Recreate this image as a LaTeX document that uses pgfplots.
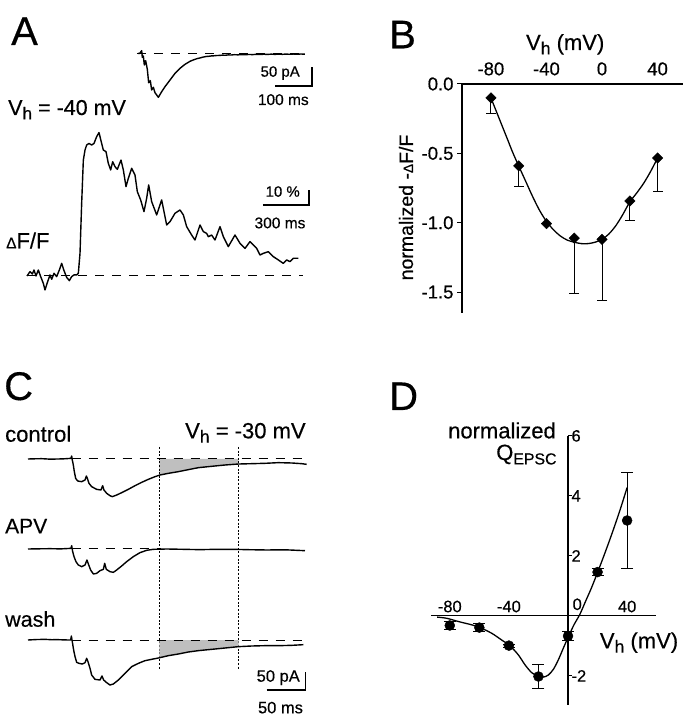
\documentclass[border=0pt]{standalone}
\usepackage{fontspec}
\setmainfont[FakeBold=0.4]{Liberation Sans}
\usepackage{graphicx}
\usepackage{pgfplots}
\pgfplotsset{compat=1.18}
\newcommand{\fs}[1]{\fontsize{#1}{#1}\selectfont}
\newcommand{\sub}[1]{\raisebox{-0.2em}{\scalebox{0.8}{#1}}}
\newcommand{\sD}{\scalebox{0.7}{Δ}}
\pgfplotsset{
  trace/.style={scale only axis, hide axis, clip=false, anchor=south west},
  tr/.style={black, line width=1.4pt, line join=round},
  base/.style={black, line width=1pt, dash pattern=on 9pt off 8pt},
  dotl/.style={black, line width=0.9pt, dash pattern=on 2pt off 1.6pt},
  sbar/.style={black, line width=1.4pt},
}
\begin{document}
\begin{tikzpicture}
\useasboundingbox (0,0) rectangle (686pt,720pt);
\fill[white] (0,0) rectangle (686pt,720pt);

% ---------------- Panel A: EPSC ----------------
\begin{axis}[trace, at={(138pt,608.6pt)}, width=177.6pt, height=65.62pt,
  xmin=0, xmax=480, ymin=-150, ymax=20]
\addplot[base] coordinates {(-3,0) (451,0)};
\addplot[tr] coordinates {
(0,0) (5,0.5) (9.9,7.3) (11.7,-9.9) (14.4,-6.5) (17.1,-29.8) (20.7,-18.6)
(25.2,-41.0) (28.8,-75.6) (33.3,-70.4) (36.9,-94.6) (41.4,-87.6) (45.9,-101.5)
(50.5,-107.5) (55.0,-113.6) (64.0,-98.9) (73.0,-85.9) (86.5,-68.7) (100.0,-51.4)
(113.5,-38.4) (127.0,-28.1) (140.5,-20.3) (150,-16.5) (160,-13.2) (165,-12.1) (170,-10.9)
(175,-9.5) (180,-8.6) (186,-7.6) (192,-7.2) (198,-6.3) (205,-6.0) (212,-5.3)
(220,-5.0) (228,-4.3) (236,-4.6) (244,-3.7) (252,-3.9) (260,-3.1) (270,-3.5)
(280,-2.8) (290,-3.2) (300,-2.5) (310,-2.9) (320,-2.1) (330,-2.6) (340,-1.9)
(350,-2.4) (360,-1.7) (370,-2.3) (380,-1.6) (390,-2.2) (400,-1.5) (410,-2.1)
(420,-1.4) (430,-2.0) (440,-1.3) (451,-1.8)};
\addplot[sbar] coordinates {(370.3,-84.2) (470.3,-84.2) (470.3,-34.2)};
\end{axis}

% ---------------- Panel A: dF/F ----------------
\begin{axis}[trace, at={(27pt,414pt)}, width=291.33pt, height=195pt,
  xmin=0, xmax=1900, ymin=-20, ymax=110]
\addplot[base] coordinates {(0,0) (1802,0)};
\addplot[tr] coordinates {
(0,0) (19.6,2.9) (34.8,1.3) (45.7,4.0) (58.7,0) (73.9,4.0) (89.1,-0.4)
(106.5,-4.9) (117.4,-9.3) (132.6,-4.4) (150,0.7) (160.9,-2.2) (176.1,1.8)
(193.5,-0.4) (210.9,4.0) (226.1,8.4) (241.3,3.6) (258.7,-0.9) (276.1,-3.1)
(291.3,-0.4) (306.5,0.7) (323.9,0.7) (334.8,1.8) (345.7,15.1) (356.5,48.4)
(367.4,77.3) (378.3,84.0) (389.1,87.3) (404.3,88.4) (421.7,87.3) (437.0,88.4)
(454.3,92.9) (469.6,95.6) (487.0,88.4) (497.8,84.0) (515.2,82.9) (530.4,75.1)
(545.7,70.7) (558.7,76.2) (573.9,72.9) (589.1,71.1) (613.0,77.3) (628.3,70.7)
(645.7,59.6) (660.9,65.1) (682.6,71.8) (704.3,67.3) (719.6,56.2) (741.3,50.7)
(763.0,42.9) (780.4,51.8) (793.5,60.7) (813.0,49.6) (845.7,40.7) (878.3,50.7)
(910.9,34.0) (932.6,36.2) (965.2,41.8) (997.8,44.0) (1019.6,40.7) (1041.3,32.9)
(1073.9,27.3) (1095.7,24.0) (1128.3,34.0) (1150.0,29.6) (1171.7,28.4) (1182.6,26.2)
(1204.3,27.3) (1226.1,24.0) (1258.7,32.9) (1280.4,26.2) (1313.0,19.6) (1356.5,27.3)
(1389.1,21.8) (1421.7,18.4) (1454.3,22.9) (1497.8,18.4) (1519.6,14.0) (1541.3,15.1)
(1573.9,16.2) (1606.5,12.9) (1639.1,10.7) (1671.7,8.4) (1693.5,10.7) (1715.2,9.6)
(1737.0,11.8) (1769.6,11.8)};
\addplot[sbar] coordinates {(1539,47.3) (1839,47.3) (1839,57.3)};
\end{axis}

% ---------------- Panel B ----------------
\begin{axis}[at={(462pt,407pt)}, anchor=south west, scale only axis,
  width=221pt, height=229pt,
  xmin=-100.8, xmax=58.3, ymin=-1.65, ymax=0,
  axis x line*=top, axis y line*=left,
  xtick={-80,-40,0,40}, xticklabels={-80,-40,0,40},
  ytick={0,-0.5,-1,-1.5}, yticklabels={0.0,-0.5,-1.0,-1.5},
  tick align=outside, major tick length=5pt,
  xtick style={draw=none},
  tick style={black, line width=1pt},
  axis line style={black, line width=1.1pt},
  tick label style={font=\fs{18.5}},
  clip=false]
\addplot[black, line width=1.3pt, smooth] coordinates {
(-80,-0.10) (-76,-0.20) (-72,-0.30) (-68,-0.40) (-64,-0.50) (-60,-0.59)
(-55,-0.70) (-50,-0.81) (-45,-0.91) (-40,-0.99) (-35,-1.05) (-30,-1.095)
(-25,-1.125) (-20,-1.14) (-15,-1.15) (-10,-1.15) (-5,-1.14) (0,-1.12)
(5,-1.08) (10,-1.02) (15,-0.94) (20,-0.85) (25,-0.785) (30,-0.715)
(35,-0.63) (40,-0.533)};
\addplot[black, only marks, mark=square*, mark size=3.7pt, mark options={rotate=45},
  error bars/.cd, y dir=minus, y explicit,
  error bar style={line width=1pt},
  error mark options={rotate=90, mark size=5pt, line width=1pt}]
coordinates {
(-80,-0.10) +- (0,0.111)
(-60,-0.59) +- (0,0.145)
(-40,-1.006) +- (0,0)
(-20,-1.11) +- (0,0.40)
(0,-1.12) +- (0,0.44)
(20,-0.843) +- (0,0.137)
(40,-0.533) +- (0,0.243)};
\end{axis}

% ---------------- Panel C ----------------
\begin{axis}[trace, at={(28pt,213.42pt)}, width=288.6pt, height=62.22pt,
  xmin=0, xmax=370, ymin=-130, ymax=40]
\addplot[fill=black!25, draw=none] coordinates {
(168.4,0) (168.4,-44.3) (169.2,-43.7) (179.9,-39.2) (192.7,-34.6) (205.6,-29.1)
(218.4,-23.7) (235.5,-20.0) (252.6,-16.4) (270.1,-13.7) (270.1,0)} \closedcycle;
\addplot[base] coordinates {(56,0) (357,0)};
\addplot[tr] coordinates {
(0,0) (8,0.5) (17.5,0.9) (28,-0.4) (38.9,0) (47,0.6) (55.1,1.8) (56.0,8.2) (56.8,-2.7)
(58.1,-16.4) (59.4,-34.6) (61.1,-52.8) (63.7,-60.1) (68.8,-61.9) (73.1,-57.4)
(74.8,-46.4) (76.1,-52.8) (78.2,-66.5) (81.6,-75.6) (88.0,-82.9) (93.6,-84.7)
(95.7,-72.9) (97.4,-84.7) (100.9,-93.8) (105.1,-100.2) (108.1,-102.9) (113.7,-98.4)
(120.1,-92.0) (128.6,-82.9) (137.2,-72.9) (145.7,-63.8) (154.3,-55.6) (162.8,-48.3)
(169.2,-43.7) (179.9,-39.2) (192.7,-34.6) (205.6,-29.1) (218.4,-23.7) (235.5,-20.0)
(252.6,-16.4) (269.7,-13.7) (286.8,-12.8) (303.8,-11.8) (320.9,-10.0) (338.0,-10.9)
(350.9,-12.8) (357.3,-14.6)};
\addplot[dotl] coordinates {(168.4,32.8) (168.4,-576.5)};
\addplot[dotl] coordinates {(270.1,32.8) (270.1,-576.5)};
\end{axis}

\begin{axis}[trace, at={(28pt,123.42pt)}, width=288.6pt, height=62.22pt,
  xmin=0, xmax=370, ymin=-130, ymax=40]
\addplot[base] coordinates {(56,0) (170,0)};
\addplot[tr] coordinates {
(0,0) (14,0.5) (28.2,0.9) (42,0.3) (55.1,1.8) (56.0,9.1) (57.3,-7.3) (59.0,-20.9)
(61.5,-34.6) (64.5,-43.7) (68.8,-48.3) (73.1,-43.7) (75.6,-30.1) (77.4,-41.0)
(80.3,-57.4) (83.8,-68.3) (88.0,-66.5) (92.3,-59.2) (96.6,-55.6) (98.3,-39.2)
(100.4,-55.6) (105.1,-61.9) (109.4,-63.8) (113.7,-57.4) (120.1,-46.4) (126.5,-34.6)
(135.0,-20.9) (143.6,-10.0) (152.1,-3.6) (160.7,-0.9) (177.8,0) (200,-0.9)
(220.5,-1.8) (240,-0.9) (263.2,-0.9) (285,-2.0) (306.0,-2.7) (330,-2.2) (355.1,-4.6)};
\end{axis}

\begin{axis}[trace, at={(28pt,32.42pt)}, width=288.6pt, height=62.22pt,
  xmin=0, xmax=370, ymin=-130, ymax=40]
\addplot[fill=black!25, draw=none] coordinates {
(168.4,0) (168.4,-48.5) (179.9,-42.8) (192.7,-38.3) (205.6,-32.8) (218.4,-29.1)
(235.5,-25.5) (252.6,-21.9) (269.7,-18.2) (270.1,-18.2) (270.1,0)} \closedcycle;
\addplot[base] coordinates {(56,0) (353,0)};
\addplot[tr] coordinates {
(0,0) (10,1.2) (21.8,1.8) (30,0.8) (38.9,0.9) (47,0.2) (54.7,0) (55.6,10.9) (56.8,-4.6)
(58.5,-27.3) (60.3,-45.5) (62.4,-61.0) (65.4,-63.8) (69.7,-65.6) (73.1,-61.9)
(75.2,-50.1) (76.9,-59.2) (79.5,-77.4) (81.6,-95.6) (85.9,-107.5) (92.3,-109.3)
(94.9,-98.4) (97.0,-109.3) (100.9,-116.6) (105.1,-123.0) (109.4,-120.2) (115.8,-109.3)
(124.4,-91.1) (132.9,-72.9) (141.5,-63.8) (150.0,-56.5) (158.5,-52.8) (167.1,-49.2)
(179.9,-42.8) (192.7,-38.3) (205.6,-32.8) (218.4,-29.1) (235.5,-25.5) (252.6,-21.9)
(269.7,-18.2) (286.8,-16.4) (303.8,-15.5) (320.9,-15.5) (338.0,-14.6) (353.0,-12.8)};
\addplot[sbar] coordinates {(306,-136.6) (356,-136.6) (356,-86.6)};
\end{axis}

% ---------------- Panel D ----------------
\begin{axis}[at={(431pt,15pt)}, anchor=south west, scale only axis,
  width=225.25pt, height=269.1pt,
  xmin=-92.7, xmax=59.7, ymin=-2.97, ymax=6,
  axis lines*=middle,
  xtick={-80,-40,40}, xticklabels={-80,-40,40},
  ytick={-2,2,4,6}, yticklabels={-2,2,4,6},
  xtick style={draw=none},
  major tick length=4pt, tick align=center,
  ytick style={black, line width=1pt, xshift=2pt},
  axis line style={black, line width=1.1pt},
  tick label style={font=\fs{16.5}},
  xticklabel style={anchor=south, yshift=2pt},
  yticklabel style={anchor=west, xshift=2pt},
  clip=false]
\addplot[black, line width=1.3pt, smooth] coordinates {
(-88.6,-0.04) (-82,-0.08) (-74,-0.19) (-65,-0.30) (-59.5,-0.39) (-51.6,-0.58)
(-45,-0.80) (-39.2,-1.0) (-33.6,-1.30) (-29.1,-1.63) (-24.6,-1.89) (-20.1,-2.02)
(-16.7,-2.04) (-13.3,-1.97) (-9.9,-1.78) (-6.6,-1.47) (-3.2,-1.08) (0,-0.72)
(4,-0.3) (8,0.05) (12,0.5) (16,0.95) (20,1.45) (25,2.1) (30,2.78) (35,3.5) (40,4.28)};
\addplot[black, only marks, mark=*, mark size=5pt,
  error bars/.cd, y dir=both, y explicit,
  error bar style={line width=1pt},
  error mark options={rotate=90, mark size=6pt, line width=1pt}]
coordinates {
(-80,-0.32) +- (0,0.12)
(-60,-0.39) +- (0,0.12)
(-40,-0.99) +- (0,0.05)
(-20,-2.02) +- (0,0.39)
(0,-0.67) +- (0,0.15)
(20,1.46) +- (0,0.12)
(40,3.18) +- (0,1.6)};
\end{axis}

% ---------------- Text (image coordinates) ----------------
\begin{scope}[x=1pt, y=-1pt, shift={(0pt,720pt)}]
\node[anchor=base west, inner sep=0] at (11,45) {\fs{40}A};
\node[anchor=base west, inner sep=0] at (389,48.3) {\fs{40}B};
\node[anchor=base west, inner sep=0] at (4,400) {\fs{40}C};
\node[anchor=base west, inner sep=0] at (389,410) {\fs{40}D};
% A
\node[anchor=base west, inner sep=0] at (8,115) {\fs{21.5}V\sub{h} = -40 mV};
\node[anchor=base west, inner sep=0] at (6,248.3) {\fs{22}\sD F/F};
\node[anchor=base east, inner sep=0] at (300,76.7) {\fs{15}50 pA};
\node[anchor=base, inner sep=0] at (283.3,105) {\fs{15.5}100 ms};
\node[anchor=base east, inner sep=0] at (300,196.7) {\fs{15}10 \%};
\node[anchor=base, inner sep=0] at (280,228.3) {\fs{15.5}300 ms};
% B
\node[anchor=base, inner sep=0] at (565.2,50) {\fs{22}V\sub{h} (mV)};
\node[rotate=90, inner sep=0] at (406,207.5) {\fs{19.5}normalized -\sD F/F};
% C
\node[anchor=base west, inner sep=0] at (5,441.7) {\fs{22}control};
\node[anchor=base west, inner sep=0] at (185,438.3) {\fs{22}V\sub{h} = -30 mV};
\node[anchor=base west, inner sep=0] at (5,533.3) {\fs{21}APV};
\node[anchor=base west, inner sep=0] at (5,626.7) {\fs{21.5}wash};
\node[anchor=base east, inner sep=0] at (300,681.7) {\fs{16.5}50 pA};
\node[anchor=base, inner sep=0] at (280.5,713.3) {\fs{16.5}50 ms};
% D
\node[anchor=base east, inner sep=0] at (556,438.3) {\fs{22}normalized};
\node[anchor=base east, inner sep=0] at (556.7,460) {\fs{22}Q\raisebox{-0.2em}{\scalebox{0.72}{EPSC}}};
\node[anchor=base west, inner sep=0] at (599.7,648.3) {\fs{22}V\sub{h} (mV)};
\node[anchor=base, inner sep=0] at (577.2,610) {\fs{16.5}0};
\end{scope}
\end{tikzpicture}
\end{document}
